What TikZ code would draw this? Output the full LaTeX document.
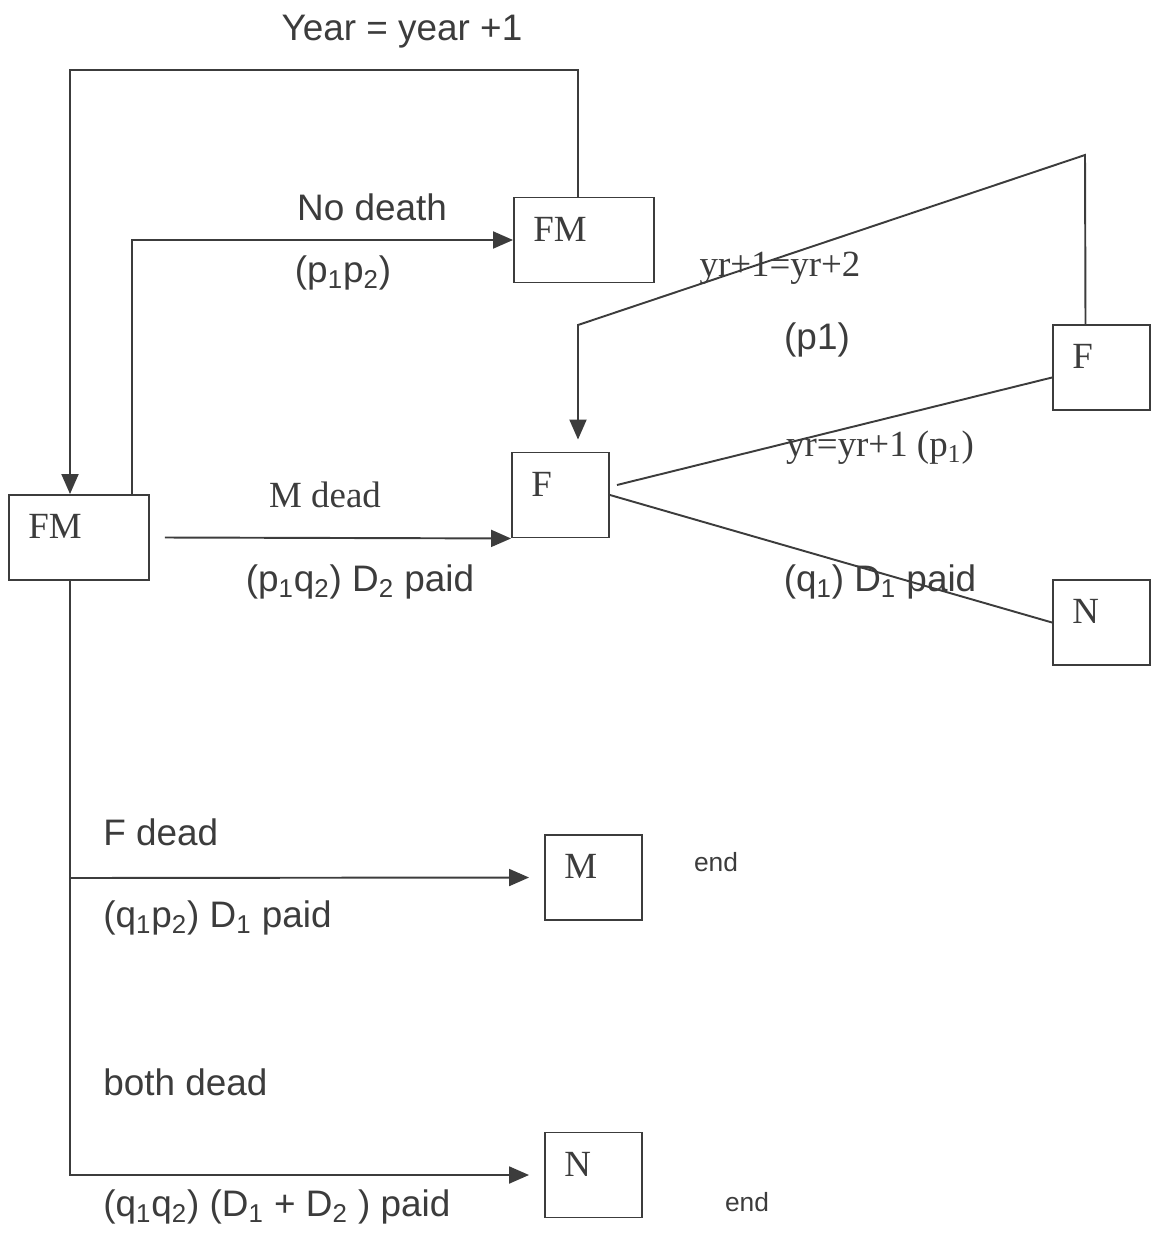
\documentclass[tikz,border=0pt]{standalone}
\usepackage{fontspec}
\setmainfont{Liberation Serif}
\newfontfamily\arialfont{Liberation Sans}
\usetikzlibrary{arrows.meta,positioning}
\definecolor{ink}{HTML}{3C3C3C}
\tikzset{
  box/.style={draw=ink, line width=1.1pt, minimum width=1.94cm, minimum height=1.7cm, inner sep=0pt},
  widebox/.style={box, minimum width=2.8cm},
  boxtext/.style={anchor=north west, inner sep=0pt, xshift=0.4cm, yshift=-0.4cm, text=ink, font=\fontsize{21}{21}\selectfont},
  lbl/.style={text=ink, inner sep=0pt, font=\arialfont\fontsize{21}{24}\selectfont},
  slbl/.style={text=ink, inner sep=0pt, font=\fontsize{21}{24}\selectfont},
  endlbl/.style={text=ink, inner sep=0pt, font=\arialfont\fontsize{15}{18}\selectfont},
  link/.style={draw=ink, line width=1.1pt},
  arr/.style={link, -{Triangle[length=0.4cm,width=0.34cm]}}
}
\begin{document}
\begin{tikzpicture}[x=0.02cm, y=-0.02cm]
            \useasboundingbox (0,0) rectangle (1155,1248);

            % states
            \node[widebox, label={[boxtext]north west:FM}] (fm0) at (79,537.5) {};
            \node[widebox, label={[boxtext]north west:FM}] (fm1) at (584,240) {};
            \node[box, label={[boxtext]north west:F}] (f1) at (560.5,495) {};
            \node[box, label={[boxtext]north west:F}] (f2) at (1101.5,367.5) {};
            \node[box, label={[boxtext]north west:N}] (n1) at (1101.5,622.5) {};
            \node[box, label={[boxtext]north west:M}] (m) at (593.5,877.5) {};
            \node[box, label={[boxtext]north west:N}] (n2) at (593.5,1175) {};

            % corner points of the loops
            \coordinate (loopl) at (70,70);
            \coordinate (peak) at (1085,155);
            \coordinate (bend) at (578,325);
            \coordinate (fork) at (70,878);

            % year loop back to first FM
            \draw[arr] ([xshift=-0.12cm]fm1.north) |- (loopl) -- (loopl |- fm0.north);
            \draw[arr] ([xshift=1.06cm]fm0.north) |- (fm1.west);
            \draw[arr] ([xshift=0.3cm]fm0.east) -- (f1.south west);
            % widow branch
            \draw[link] ([xshift=0.14cm,yshift=0.2cm]f1.east) -- ([yshift=-0.2cm]f2.west);
            \draw[link] (f1.east) -- (n1.west);
            \draw[arr] ([xshift=-0.32cm]f2.north) -- (peak) -- (bend) -- ([xshift=0.35cm,yshift=0.24cm]f1.north);
            % deaths of F, both
            \draw[link] (fm0.south -| loopl) -- (fork);
            \draw[arr] (fork) -- ([xshift=-0.3cm]m.west);
            \draw[arr] (fork) |- ([xshift=-0.3cm]n2.west);

            % labels
            \node[lbl] (yearlbl) at (402,32) {Year = year +1};
            \node[lbl] (nodeath) at (372,207) {No death};
            \node[lbl] (pp) at (343,273) {(p\textsubscript{1}p\textsubscript{2})};
            \node[slbl] (mdead) at (325,495) {M dead};
            \node[lbl] (pq) at (360,582) {(p\textsubscript{1}q\textsubscript{2}) D\textsubscript{2} paid};
            \node[slbl] (yrtwo) at (780,268) {yr+1=yr+2};
            \node[lbl] (pone) at (817,340) {(p1)};
            \node[slbl] (yrone) at (880,448) {yr=yr+1 (p\textsubscript{1})};
            \node[lbl] (qone) at (880,582) {(q\textsubscript{1}) D\textsubscript{1} paid};
            \node[lbl, anchor=west] (fdead) at (103,832) {F dead};
            \node[lbl, anchor=west] (qp) at (103,918) {(q\textsubscript{1}p\textsubscript{2}) D\textsubscript{1} paid};
            \node[endlbl] (endm) at (716,862) {end};
            \node[lbl, anchor=west] (bothdead) at (103,1082) {both dead};
            \node[lbl, anchor=west] (qq) at (103,1207) {(q\textsubscript{1}q\textsubscript{2}) (D\textsubscript{1} + D\textsubscript{2} ) paid};
            \node[endlbl] (endn) at (747,1202) {end};
        \end{tikzpicture}
\end{document}
